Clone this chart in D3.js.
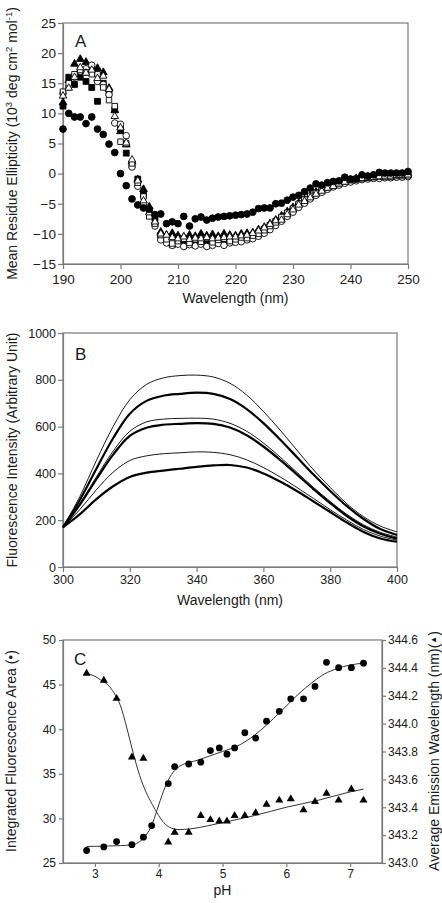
<!DOCTYPE html>
<html><head><meta charset="utf-8">
<script src="https://cdn.jsdelivr.net/npm/d3@7"></script>
<style>
body{margin:0;background:#fff;}
svg text{font-family:"Liberation Sans",Arial,sans-serif;fill:#1a1a1a;}
</style></head><body><svg id="c" width="442" height="903"></svg>
<script>
// ---------------- Panel A data (CD spectra) ----------------
const wavelengthA = [190,191,192,193,194,195,196,197,198,199,200,201,202,203,204,205,206,207,208,209,210,211,212,213,214,215,216,217,218,219,220,221,222,223,224,225,226,227,228,229,230,231,232,233,234,235,236,237,238,239,240,241,242,243,244,245,246,247,248,249,250];
const circFilledA = [7.4,10.0,9.4,9.4,8.3,9.4,7.4,6.5,4.9,3.5,0.0,-2.0,-4.2,-5.2,-5.7,-5.9,-6.8,-6.7,-8.3,-8.0,-8.3,-7.1,-8.7,-7.5,-7.2,-7.7,-7.4,-7.2,-7.1,-7.0,-6.9,-6.8,-6.7,-6.4,-5.8,-5.7,-5.7,-5.0,-4.9,-4.4,-3.9,-3.6,-3.0,-2.4,-1.7,-1.9,-1.5,-1.3,-1.2,-0.6,-0.9,-0.9,-0.2,-0.4,-0.2,0.2,0.1,0.1,0.1,0.1,0.35];
const sqFilledA = [11.2,16.0,14.8,16.0,15.3,14.3,12.0,15.0,13.4,10.6,7.4,3.4,1.4,-0.9,-3.5,-6.2,-7.4,-10.5,-11.0,-11.8,-11.3,-11.6,-11.0,-11.5,-11.2,-11.6,-11.1,-11.3,-11.0,-10.8,-11.0,-10.6,-10.5,-10.3,-9.8,-9.2,-8.6,-7.9,-7.3,-6.6,-5.9,-5.1,-4.4,-3.8,-3.2,-2.7,-2.3,-1.9,-1.6,-1.3,-1.1,-0.9,-0.7,-0.6,-0.5,-0.4,-0.4,-0.3,-0.3,-0.3,-0.2];
const sqOpenA = [13.6,15.0,16.5,17.2,16.8,16.5,16.5,14.3,12.2,11.2,5.3,5.0,1.7,-1.5,-3.8,-7.1,-8.3,-10.2,-10.9,-11.6,-11.2,-10.8,-11.5,-10.9,-11.3,-10.7,-11.4,-11.0,-10.8,-11.2,-10.9,-10.6,-10.7,-10.3,-10.0,-9.4,-8.7,-8.1,-7.2,-6.5,-5.8,-5.0,-4.3,-3.7,-3.2,-2.7,-2.3,-1.9,-1.6,-1.3,-1.1,-0.9,-0.8,-0.7,-0.6,-0.5,-0.5,-0.5,-0.4,-0.4,-0.3];
const triFilledA = [11.8,15.5,18.2,19.0,18.5,17.8,17.5,16.8,14.2,10.5,7.0,4.8,2.0,-1.0,-2.6,-5.5,-8.0,-9.7,-10.2,-9.9,-10.3,-10.5,-10.2,-10.4,-10.0,-10.3,-10.1,-10.4,-10.0,-10.2,-10.3,-10.0,-9.9,-9.8,-9.3,-8.9,-8.3,-7.7,-7.0,-6.3,-5.6,-4.9,-4.3,-3.7,-3.1,-2.6,-2.2,-1.8,-1.5,-1.2,-1.0,-0.8,-0.6,-0.5,-0.4,-0.3,-0.3,-0.2,-0.2,-0.1,0.0];
const triOpenA = [12.9,14.2,16.0,17.6,16.7,17.2,15.8,16.2,14.0,9.5,7.6,5.1,2.3,-1.2,-4.5,-6.5,-8.0,-10.0,-10.2,-10.6,-10.8,-10.5,-10.9,-10.7,-10.8,-10.6,-10.8,-10.7,-10.6,-10.5,-10.5,-10.3,-10.2,-9.9,-9.5,-9.0,-8.4,-7.8,-7.7,-6.8,-6.0,-5.2,-4.6,-4.0,-3.4,-2.9,-2.4,-2.1,-1.7,-1.4,-1.1,-0.9,-0.8,-0.7,-0.6,-0.5,-0.4,-0.4,-0.3,-0.3,-0.2];
const circOpenA = [13.3,14.4,16.0,17.0,17.4,18.0,15.3,14.8,13.1,8.4,8.2,6.3,1.1,-2.1,-5.0,-6.0,-8.7,-11.0,-11.5,-11.9,-11.7,-12.1,-11.8,-12.0,-11.7,-12.1,-11.9,-11.6,-11.9,-11.5,-11.4,-11.3,-11.0,-10.8,-10.4,-9.9,-9.3,-8.6,-7.9,-7.1,-6.4,-5.6,-4.9,-4.2,-3.6,-3.1,-2.6,-2.2,-1.9,-1.6,-1.4,-1.2,-1.0,-0.9,-0.8,-0.8,-0.7,-0.7,-0.6,-0.6,-0.5];
const yTicksA = [-15,-10,-5,0,5,10,15,20,25];
const xTicksA = [190,200,210,220,230,240,250];

// ---------------- Panel B data (fluorescence spectra) ----------------
const wavelengthB = [300,305,310,315,320,325,330,335,340,345,350,355,360,365,370,375,380,385,390,395,400];
const thin1B  = [170,300,455,600,715,780,808,818,820,812,785,735,665,585,500,415,340,270,215,175,150];
const thick1B = [170,285,420,550,655,710,732,740,745,740,718,675,615,545,470,395,325,260,205,162,137];
const thin2B  = [170,270,385,495,580,620,632,635,636,632,614,580,530,470,405,340,280,225,180,148,128];
const thick2B = [170,265,375,480,560,595,608,612,615,612,596,563,515,458,396,333,273,218,173,142,121];
const thin3B  = [170,245,330,405,455,475,484,488,492,490,480,458,425,385,340,293,245,200,160,132,115];
const thick3B = [170,225,290,345,385,403,412,420,428,434,436,425,400,365,325,280,235,190,150,122,108];
const yTicksB = [0,200,400,600,800,1000];
const xTicksB = [300,320,340,360,380,400];

// ---------------- Panel C data (pH dependence) ----------------
const phCirc = [2.87,3.14,3.34,3.58,3.76,3.89,4.15,4.25,4.47,4.66,4.81,4.95,5.07,5.19,5.35,5.52,5.69,5.89,6.07,6.27,6.45,6.63,6.82,7.02,7.21];
const areaCirc = [26.4,26.8,27.4,27.05,27.9,29.2,33.9,35.8,36.1,36.3,37.6,37.9,37.2,37.9,39.6,39.0,40.9,42.0,43.4,43.4,44.8,47.5,46.9,46.9,47.4];
const phTri = [2.87,3.14,3.34,3.58,3.76,4.15,4.25,4.47,4.66,4.81,4.95,5.07,5.19,5.35,5.52,5.69,5.89,6.07,6.27,6.45,6.63,6.82,7.02,7.21];
const emTri = [344.36,344.31,344.18,343.76,343.75,343.15,343.22,343.22,343.34,343.31,343.30,343.30,343.34,343.34,343.36,343.42,343.45,343.46,343.38,343.44,343.50,343.45,343.53,343.45];
const fitCircPH = [2.87,3.0,3.2,3.4,3.6,3.7,3.8,3.9,4.0,4.1,4.2,4.3,4.4,4.6,4.8,5.0,5.2,5.4,5.6,5.8,6.0,6.2,6.4,6.6,6.8,7.0,7.21];
const fitCircV = [26.85,26.87,26.9,26.95,27.05,27.4,28.1,29.4,31.5,33.5,34.9,35.7,36.1,36.5,37.0,37.5,38.0,38.8,39.9,41.2,42.6,44.0,45.2,46.2,46.8,47.2,47.4];
const fitTriPH = [2.87,3.0,3.1,3.2,3.3,3.4,3.5,3.6,3.7,3.8,3.9,4.0,4.1,4.2,4.3,4.5,4.75,5.0,5.5,6.0,6.5,7.0,7.21];
const fitTriV = [344.36,344.34,344.31,344.28,344.22,344.13,343.97,343.79,343.63,343.51,343.42,343.34,343.28,343.25,343.24,343.245,343.265,343.29,343.34,343.40,343.45,343.51,343.53];
const xTicksC = [3,4,5,6,7];
const yTicksCL = [25,30,35,40,45,50];
const yTicksCR = [343.0,343.2,343.4,343.6,343.8,344.0,344.2,344.4,344.6];

// ---------------- Drawing ----------------
const svg = d3.select('#c');
const AXC = '#7a7a7a';

function styleAxis(g, fs){
  g.selectAll('path.domain').attr('stroke', AXC).attr('stroke-width', 1.2);
  g.selectAll('.tick line').attr('stroke', AXC).attr('stroke-width', 1.2);
  g.selectAll('.tick text').attr('font-size', fs).attr('font-family','"Liberation Sans",Arial,sans-serif').attr('fill','#1a1a1a');
}
function frame(x0,y0,x1,y1){
  svg.append('rect').attr('x',x0).attr('y',y0).attr('width',x1-x0).attr('height',y1-y0)
    .attr('fill','none').attr('stroke',AXC).attr('stroke-width',1.2);
}
function titleY(x, y, fs){
  return svg.append('text').attr('transform',`translate(${x},${y}) rotate(-90)`)
    .attr('text-anchor','middle').attr('font-size',fs);
}

// ===== Panel A =====
const xA = d3.scaleLinear().domain([190,250]).range([63,408]);
const yA = d3.scaleLinear().domain([-15,25]).range([264,23]);
frame(63,23,408,264);
svg.append('g').attr('transform','translate(0,264)')
  .call(d3.axisBottom(xA).tickValues(xTicksA).tickSize(5).tickSizeOuter(0).tickPadding(5).tickFormat(d3.format('d')))
  .call(g=>styleAxis(g,13.5));
svg.append('g').attr('transform','translate(63,0)')
  .call(d3.axisLeft(yA).tickValues(yTicksA).tickSize(5).tickSizeOuter(0).tickPadding(2).tickFormat(d3.format('d')))
  .call(g=>styleAxis(g,13.5));

const seriesA = [
  {v: sqFilledA, type: d3.symbolSquare, size: 34, fill: '#000'},
  {v: triFilledA, type: d3.symbolTriangle, size: 26, fill: '#000'},
  {v: circOpenA, type: d3.symbolCircle, size: 34, fill: '#fff'},
  {v: sqOpenA, type: d3.symbolSquare, size: 30, fill: '#fff'},
  {v: triOpenA, type: d3.symbolTriangle, size: 24, fill: '#fff'},
  {v: circFilledA, type: d3.symbolCircle, size: 36, fill: '#000'}
];
seriesA.forEach(s=>{
  svg.append('g').selectAll('path').data(wavelengthA.map((w,i)=>[w,s.v[i]])).join('path')
    .attr('transform', d=>`translate(${xA(d[0])},${yA(d[1])})`)
    .attr('d', d3.symbol().type(s.type).size(s.size))
    .attr('fill', s.fill).attr('stroke','#000').attr('stroke-width',0.9);
});
svg.append('text').attr('x',75).attr('y',47).attr('font-size',17).text('A');
svg.append('text').attr('x',(63+408)/2).attr('y',303).attr('text-anchor','middle').attr('font-size',14).text('Wavelength (nm)');
{
  const t = titleY(17,143.5,14);
  t.append('tspan').text('Mean Residue Ellipticity (10');
  t.append('tspan').attr('font-size',9.5).attr('dy',-5).text('3');
  t.append('tspan').attr('dy',5).text(' deg  cm');
  t.append('tspan').attr('font-size',9.5).attr('dy',-5).text('2');
  t.append('tspan').attr('dy',5).text(' mol');
  t.append('tspan').attr('font-size',9.5).attr('dy',-5).text('-1');
  t.append('tspan').attr('dy',5).text(')');
}

// ===== Panel B =====
const xB = d3.scaleLinear().domain([300,400]).range([63,397]);
const yB = d3.scaleLinear().domain([0,1000]).range([567,333]);
frame(63,333,397,567);
svg.append('g').attr('transform','translate(0,567)')
  .call(d3.axisBottom(xB).tickValues(xTicksB).tickSize(5).tickSizeOuter(0).tickPadding(3).tickFormat(d3.format('d')))
  .call(g=>styleAxis(g,12.5));
svg.append('g').attr('transform','translate(63,0)')
  .call(d3.axisLeft(yB).tickValues(yTicksB).tickSize(5).tickSizeOuter(0).tickPadding(2).tickFormat(d3.format('d')))
  .call(g=>styleAxis(g,12.5));
const lineB = d3.line().x((d,i)=>xB(wavelengthB[i])).y(d=>yB(d)).curve(d3.curveCatmullRom.alpha(0.5));
[[thin1B,0.9],[thin2B,0.9],[thin3B,0.9],[thick1B,2.2],[thick2B,2.2],[thick3B,2.2]].forEach(([arr,w])=>{
  svg.append('path').attr('d', lineB(arr)).attr('fill','none').attr('stroke','#000').attr('stroke-width',w);
});
svg.append('text').attr('x',75).attr('y',360).attr('font-size',17).text('B');
svg.append('text').attr('x',(63+397)/2).attr('y',605).attr('text-anchor','middle').attr('font-size',14).text('Wavelength (nm)');
titleY(17,450,14).text('Fluorescence Intensity (Arbitrary Unit)');

// ===== Panel C =====
const xC = d3.scaleLinear().domain([2.5,7.5]).range([63,382]);
const yCL = d3.scaleLinear().domain([25,50]).range([863,640]);
const yCR = d3.scaleLinear().domain([343,344.6]).range([863,640]);
frame(63,640,382,863);
svg.append('g').attr('transform','translate(0,863)')
  .call(d3.axisBottom(xC).tickValues(xTicksC).tickSize(4).tickSizeOuter(0).tickPadding(2).tickFormat(d3.format('d')))
  .call(g=>styleAxis(g,12));
svg.append('g').attr('transform','translate(63,0)')
  .call(d3.axisLeft(yCL).tickValues(yTicksCL).tickSize(4).tickSizeOuter(0).tickPadding(3).tickFormat(d3.format('d')))
  .call(g=>styleAxis(g,12));
svg.append('g').attr('transform','translate(382,0)')
  .call(d3.axisRight(yCR).tickValues(yTicksCR).tickSize(4).tickSizeOuter(0).tickPadding(2).tickFormat(d3.format('.1f')))
  .call(g=>styleAxis(g,12));
const fitC1 = d3.line().x((d,i)=>xC(fitCircPH[i])).y(d=>yCL(d)).curve(d3.curveMonotoneX);
const fitC2 = d3.line().x((d,i)=>xC(fitTriPH[i])).y(d=>yCR(d)).curve(d3.curveMonotoneX);
svg.append('path').attr('d',fitC1(fitCircV)).attr('fill','none').attr('stroke','#333').attr('stroke-width',1);
svg.append('path').attr('d',fitC2(fitTriV)).attr('fill','none').attr('stroke','#333').attr('stroke-width',1);
svg.append('g').selectAll('circle').data(phCirc.map((p,i)=>[p,areaCirc[i]])).join('circle')
  .attr('cx',d=>xC(d[0])).attr('cy',d=>yCL(d[1])).attr('r',3.4).attr('fill','#000');
svg.append('g').selectAll('path').data(phTri.map((p,i)=>[p,emTri[i]])).join('path')
  .attr('transform',d=>`translate(${xC(d[0])},${yCR(d[1])})`)
  .attr('d', d3.symbol().type(d3.symbolTriangle).size(28)).attr('fill','#000');
svg.append('text').attr('x',74).attr('y',665).attr('font-size',17).text('C');
svg.append('text').attr('x',(63+382)/2).attr('y',895).attr('text-anchor','middle').attr('font-size',14).text('pH');
{
  const t = titleY(16,751,14);
  t.append('tspan').text('Integrated Fluorescence Area (');
  t.append('tspan').attr('font-size',8).attr('dy',-3).text('●');
  t.append('tspan').attr('dy',3).text(')');
}
{
  const t = titleY(439,751,14);
  t.append('tspan').text('Average Emission Wavelength (nm)(');
  t.append('tspan').attr('font-size',8).attr('dy',-3).text('▲');
  t.append('tspan').attr('dy',3).text(')');
}
</script></body></html>
